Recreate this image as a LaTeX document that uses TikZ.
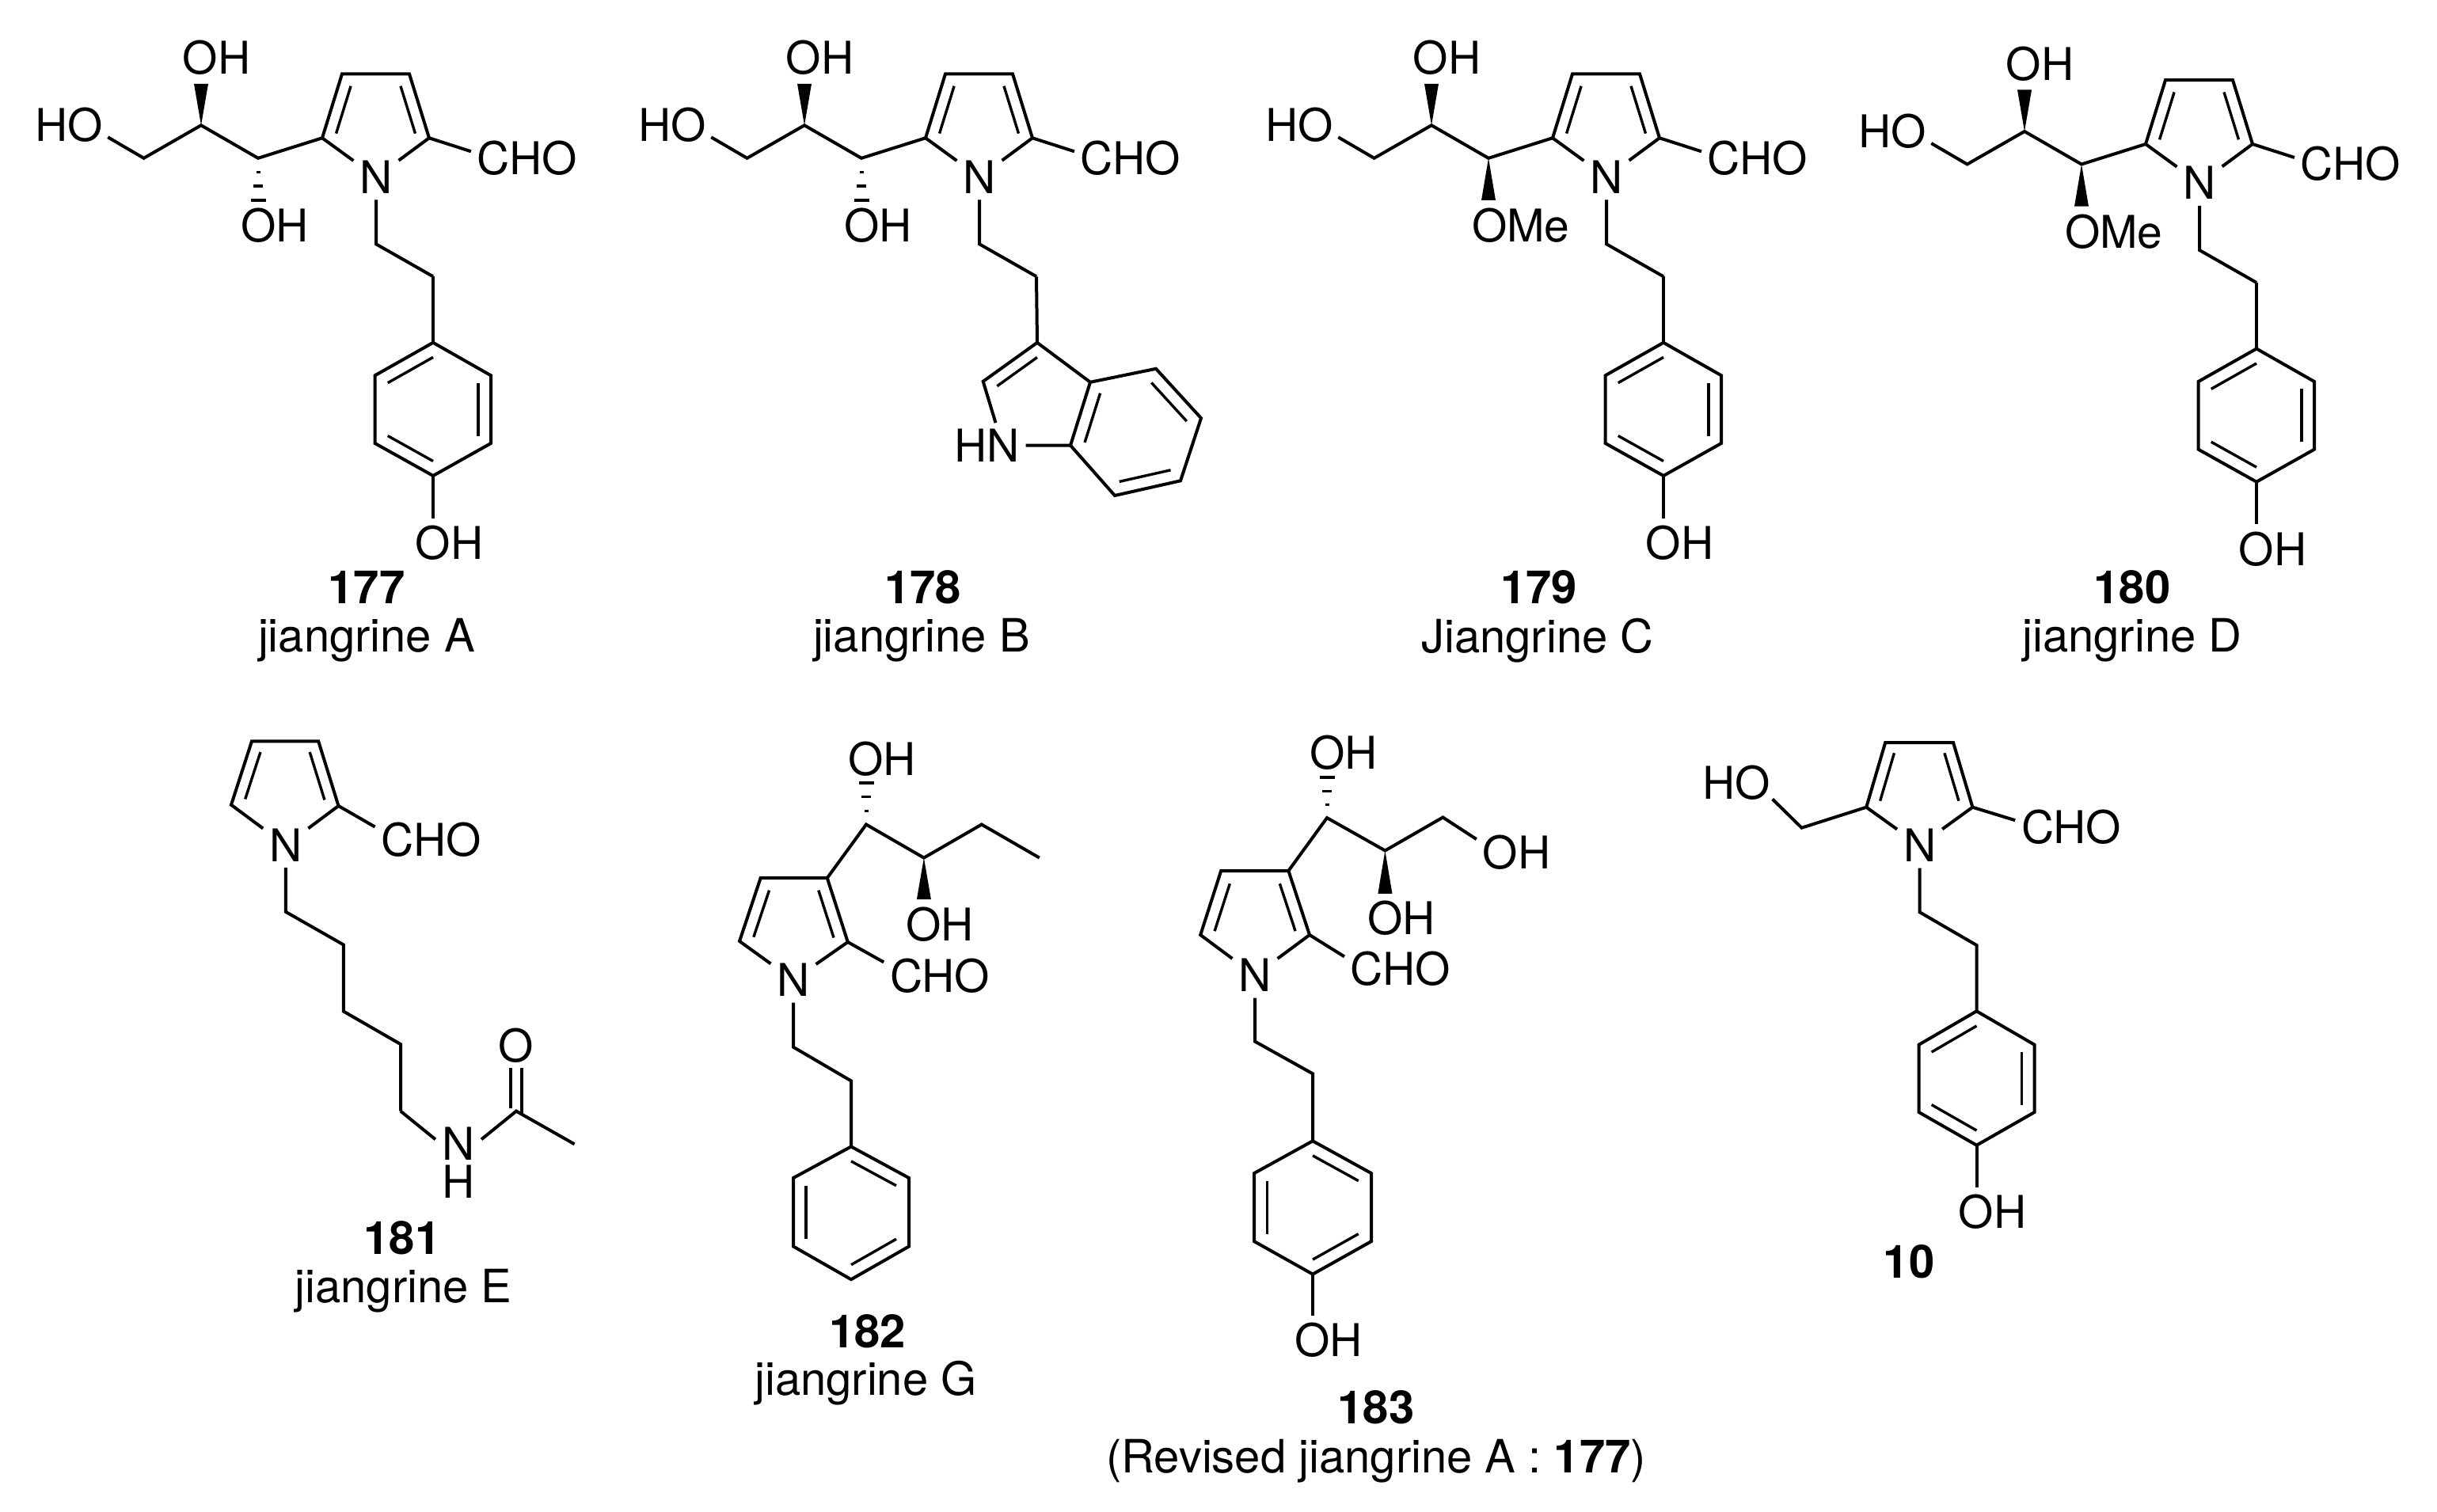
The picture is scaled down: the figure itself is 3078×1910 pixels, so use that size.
\documentclass[tikz,border=0pt]{standalone}
\usepackage{fontspec}
\setmainfont{TeX Gyre Heros}
\usetikzlibrary{calc}
\tikzset{
  bond/.style={draw=black,line width=4pt,line join=miter},
  innerbond/.style={draw=black,line width=3.4pt},
  atom/.style={font=\fontsize{57}{60}\selectfont,inner sep=8pt,outer sep=0pt,text height=41pt,text depth=0pt},
  cpdnum/.style={font=\fontsize{58}{60}\selectfont\bfseries,inner sep=0pt,text height=41.5pt,text depth=0pt},
  cpdname/.style={font=\fontsize{58}{60}\selectfont,inner sep=0pt,anchor=base}
}
% inner line of a ring double bond, pulled towards the ring centre
\newcommand\dbl[4][.74]{\draw[innerbond] ($(#4)!#1!(#2)$) -- ($(#4)!#1!(#3)$);}
\newcommand\wdg[2]{\fill[black] ($(#2)!9pt!90:(#1)$) -- ($(#2)!9pt!-90:(#1)$) -- (#1) -- cycle;}
\newcommand\hsh[2]{\foreach \t/\w in {.33/2.5,.66/6,1/9.5}{\draw[line width=3.2pt] ($(#1)!\t!(#2)!\w pt!90:(#1)$) -- ($(#1)!\t!(#2)!\w pt!-90:(#1)$);}}
% 2-formylpyrrole with side chain, shared by 177-180
\newcommand\topmol{%
  \coordinate (c5) at (407,174.3);
  \coordinate (c4) at (432,93.4);
  \coordinate (c3) at (517,93.4);
  \coordinate (c2) at (542,174.3);
  \coordinate (rc) at (474.6,152.4);
  \coordinate (ca) at (181.6,199.8);
  \coordinate (cb) at (254,158.3);
  \coordinate (cc) at (326,199.8);
  \coordinate (wa) at (254,105.8);
  \coordinate (subst) at (326,253);
  \coordinate (e1) at (475,308.3);
  \coordinate (e2) at (547,349.3);
  \node[atom] (N) at (475,223.8) {N};
  \node[atom] (CHO) at (666,199.8) {CHO};
  \node[atom] (HO) at (87.5,158.3) {HO};
  \node[atom] (OHa) at (273.5,73.2) {OH};
  \draw[bond] (N) -- (c5) -- (c4) -- (c3) -- (c2) -- (N);
  \dbl{c5}{c4}{rc}
  \dbl{c2}{c3}{rc}
  \draw[bond] (c2) -- ([yshift=8.5pt]CHO.west);
  \draw[bond] ([xshift=-2pt,yshift=-15pt]HO.east) -- (ca) -- (cb) -- (cc) -- (c5);
  \wdg{cb}{wa}
  \draw[bond] (N) -- (e1) -- (e2);
}
% p-hydroxyphenyl, shared by 177, 179, 180
\newcommand\phenol{%
  \coordinate (b1) at (547,432.8);
  \coordinate (b2) at (620,474.3);
  \coordinate (b3) at (620,560);
  \coordinate (b4) at (547,601);
  \coordinate (b5) at (473.6,560);
  \coordinate (b6) at (473.6,474.3);
  \coordinate (bc) at (547,516.9);
  \node[atom] (OHp) at (567.5,686) {OH};
  \draw[bond] (e2) -- (b1);
  \draw[bond] (b1) -- (b2) -- (b3) -- (b4) -- (b5) -- (b6) -- cycle;
  \dbl[.78]{b1}{b6}{bc}
  \dbl[.78]{b2}{b3}{bc}
  \dbl[.78]{b4}{b5}{bc}
  \draw[bond] (b4) -- ([xshift=-20.5pt,yshift=3pt]OHp.north);
}
\begin{document}
\begin{tikzpicture}[x=1pt,y=-1pt]
\useasboundingbox (0,0) rectangle (3078,1910);

% 177
\begin{scope}[name prefix=a-]
  \topmol
  \phenol
  \node[atom] (OHb) at (347,285) {OH};
  \hsh{cc}{subst}
\end{scope}
\node[cpdnum] (n177) at (463,741.4) {177};
\node[cpdname] (t177) at (463,823.3) {jiangrine A};

% 178
\begin{scope}[shift={(762,0)},name prefix=b-]
  \topmol
  \node[atom] (OHb) at (347,285) {OH};
  \hsh{cc}{subst}
\end{scope}
\coordinate (i3) at (1310,432.8);
\coordinate (i2) at (1241.7,481.8);
\coordinate (i3a) at (1377,482.8);
\coordinate (i4) at (1460,465.8);
\coordinate (i5) at (1517,528.2);
\coordinate (i6) at (1491,607.3);
\coordinate (i7) at (1408,626);
\coordinate (i7a) at (1352,562.6);
\coordinate (i5c) at (1309.7,504.5);
\coordinate (i6c) at (1434.2,546);
\node[atom] (HN) at (1246.5,562.6) {HN};
\draw[bond] (b-e2) -- (i3);
\draw[bond] ([xshift=11pt]HN.north) -- (i2) -- (i3) -- (i3a);
\draw[bond] (HN.east) -- (i7a) -- (i3a) -- (i4) -- (i5) -- (i6) -- (i7) -- (i7a);
\dbl{i2}{i3}{i5c}
\dbl[.78]{i3a}{i7a}{i6c}
\dbl[.78]{i4}{i5}{i6c}
\dbl[.78]{i6}{i7}{i6c}
\node[cpdnum] (n178) at (1165.6,741.4) {178};
\node[cpdname] (t178) at (1164,823.3) {jiangrine B};

% 179
\begin{scope}[shift={(1554,0)},name prefix=c-]
  \topmol
  \phenol
  \node[atom] (OMe) at (366.8,285) {OMe};
  \wdg{cc}{subst}
\end{scope}
\node[cpdnum] (n179) at (1943.5,741.4) {179};
\node[cpdname] (t179) at (1942,824.4) {Jiangrine C};

% 180
\begin{scope}[shift={(2303,7.7)},name prefix=d-]
  \topmol
  \phenol
  \node[atom] (OMe) at (366.8,285) {OMe};
  \wdg{cc}{subst}
\end{scope}
\node[cpdnum] (n180) at (2693,742) {180};
\node[cpdname] (t180) at (2693,823.3) {jiangrine D};

% 181
\begin{scope}[name prefix=e-]
  \coordinate (c5) at (292,1016.7);
  \coordinate (c4) at (318,936.4);
  \coordinate (c3) at (402.2,936.4);
  \coordinate (c2) at (427.5,1018);
  \coordinate (rc) at (360,989);
  \node[atom] (N) at (360.8,1067.7) {N};
  \node[atom] (CHO) at (544.6,1060.5) {CHO};
  \coordinate (p1) at (360.8,1151.8);
  \coordinate (p2) at (433.8,1193.4);
  \coordinate (p3) at (433.8,1277.5);
  \coordinate (p4) at (506,1319.1);
  \coordinate (p5) at (506,1403.6);
  \coordinate (co) at (652,1403.6);
  \coordinate (me) at (725.6,1445.3);
  \node[atom,inner sep=2.5pt] (NH) at (579,1445.3) {N};
  \node[atom,inner sep=0pt] (HH) at (579,1493) {H};
  \node[atom] (O) at (652,1320.9) {O};
  \draw[bond] (N) -- (c5) -- (c4) -- (c3) -- (c2) -- (N);
  \dbl{c5}{c4}{rc}
  \dbl{c2}{c3}{rc}
  \draw[bond] (c2) -- ([yshift=16pt]CHO.west);
  \draw[bond] (p5) -- ([xshift=-6pt,yshift=6pt]NH.west);
  \draw[bond] (N) -- (p1) -- (p2) -- (p3) -- (p4) -- (p5);
  \draw[bond] ([xshift=6pt,yshift=6pt]NH.east) -- (co) -- (me);
  \draw[bond] ([xshift=-7pt]O.south) -- ([xshift=-7pt,yshift=4pt]co);
  \draw[bond] ([xshift=7pt]O.south) -- ([xshift=7pt,yshift=-4pt]co);
\end{scope}
\node[cpdnum] (n181) at (508,1563.3) {181};
\node[cpdname] (t181) at (509.6,1645) {jiangrine E};

% 182
\begin{scope}[name prefix=f-]
  \coordinate (c3) at (1044.8,1109.1);
  \coordinate (c4) at (960.6,1109.1);
  \coordinate (c5) at (934,1188.9);
  \coordinate (c2) at (1070.8,1190);
  \coordinate (rc) at (1002.5,1169);
  \coordinate (ca) at (1094,1041.5);
  \coordinate (cb) at (1166.9,1083.6);
  \coordinate (cc) at (1239.8,1041.5);
  \coordinate (cd) at (1312.8,1083.6);
  \coordinate (hh) at (1094,989);
  \coordinate (ww) at (1166.9,1136);
  \coordinate (e1) at (1002,1322.7);
  \coordinate (e2) at (1075,1365.4);
  \coordinate (b1) at (1075,1448.4);
  \coordinate (b2) at (1148,1488);
  \coordinate (b3) at (1148,1574.5);
  \coordinate (b4) at (1075,1616.2);
  \coordinate (b5) at (1002,1574.5);
  \coordinate (b6) at (1002,1488);
  \coordinate (bc) at (1075,1532.3);
  \node[atom] (N) at (1002,1238) {N};
  \node[atom] (CHO) at (1187.2,1232.9) {CHO};
  \node[atom] (OHa) at (1114,959) {OH};
  \node[atom] (OHb) at (1187.2,1167.8) {OH};
  \draw[bond] (N) -- (c5) -- (c4) -- (c3) -- (c2) -- (N);
  \dbl{c5}{c4}{rc}
  \dbl{c2}{c3}{rc}
  \draw[bond] (c2) -- ([yshift=17.5pt]CHO.west);
  \draw[bond] (c3) -- (ca) -- (cb) -- (cc) -- (cd);
  \hsh{ca}{hh}
  \wdg{cb}{ww}
  \draw[bond] (N) -- (e1) -- (e2) -- (b1);
  \draw[bond] (b1) -- (b2) -- (b3) -- (b4) -- (b5) -- (b6) -- cycle;
  \dbl[.78]{b1}{b2}{bc}
  \dbl[.78]{b5}{b6}{bc}
  \dbl[.78]{b3}{b4}{bc}
\end{scope}
\node[cpdnum] (n182) at (1095.4,1681.3) {182};
\node[cpdname] (t182) at (1093.5,1762) {jiangrine G};

% 183
\begin{scope}[name prefix=g-]
  \coordinate (c3) at (1627.4,1100);
  \coordinate (c4) at (1542.2,1100);
  \coordinate (c5) at (1516.2,1181);
  \coordinate (c2) at (1654,1181);
  \coordinate (rc) at (1585,1162.5);
  \coordinate (ca) at (1676,1033.1);
  \coordinate (cb) at (1749.4,1074.5);
  \coordinate (cc) at (1822.4,1032.5);
  \coordinate (hh) at (1676,982);
  \coordinate (ww) at (1749.4,1128.75);
  \coordinate (e1) at (1585,1315.6);
  \coordinate (e2) at (1658,1356.3);
  \coordinate (b1) at (1658,1441.3);
  \coordinate (b2) at (1732,1482.1);
  \coordinate (b3) at (1732,1568.1);
  \coordinate (b4) at (1658,1609.6);
  \coordinate (b5) at (1584,1568.1);
  \coordinate (b6) at (1584,1482.1);
  \coordinate (bc) at (1658,1525.4);
  \node[atom] (N) at (1585,1232.1) {N};
  \node[atom] (CHO) at (1769,1224.4) {CHO};
  \node[atom] (OHa) at (1697,951.3) {OH};
  \node[atom] (OHb) at (1770,1160) {OH};
  \node[atom] (OHc) at (1915.5,1077.1) {OH};
  \node[atom] (OHp) at (1678.3,1693.1) {OH};
  \draw[bond] (N) -- (c5) -- (c4) -- (c3) -- (c2) -- (N);
  \dbl{c5}{c4}{rc}
  \dbl{c2}{c3}{rc}
  \draw[bond] (c2) -- ([yshift=16pt]CHO.west);
  \draw[bond] (c3) -- (ca) -- (cb) -- (cc) -- ([yshift=17pt]OHc.west);
  \hsh{ca}{hh}
  \wdg{cb}{ww}
  \draw[bond] (N) -- (e1) -- (e2) -- (b1);
  \draw[bond] (b1) -- (b2) -- (b3) -- (b4) -- (b5) -- (b6) -- cycle;
  \dbl[.78]{b1}{b2}{bc}
  \dbl[.78]{b5}{b6}{bc}
  \dbl[.78]{b3}{b4}{bc}
  \draw[bond] (b4) -- ([xshift=-20.3pt,yshift=3pt]OHp.north);
\end{scope}
\node[cpdnum] (n183) at (1738,1777.5) {183};
\node[cpdname] (t183) at (1738,1860) {(Revised jiangrine A : \textbf{177})};

% 10
\begin{scope}[name prefix=h-]
  \coordinate (c5) at (2357.2,1019.7);
  \coordinate (c4) at (2381.2,938);
  \coordinate (c3) at (2467,938);
  \coordinate (c2) at (2491.4,1019.7);
  \coordinate (rc) at (2424.3,989);
  \coordinate (ca) at (2275.6,1045.7);
  \coordinate (e1) at (2424.6,1152.3);
  \coordinate (e2) at (2496.5,1194);
  \coordinate (b1) at (2496.5,1277.3);
  \coordinate (b2) at (2569.5,1319.7);
  \coordinate (b3) at (2569.5,1405);
  \coordinate (b4) at (2496.5,1446.7);
  \coordinate (b5) at (2423.6,1405);
  \coordinate (b6) at (2423.6,1319.7);
  \coordinate (bc) at (2496.5,1362);
  \node[atom] (N) at (2424.6,1068) {N};
  \node[atom] (CHO) at (2616.2,1045.2) {CHO};
  \node[atom] (HO) at (2192.9,989) {HO};
  \node[atom] (OHp) at (2516.7,1531.4) {OH};
  \draw[bond] (N) -- (c5) -- (c4) -- (c3) -- (c2) -- (N);
  \dbl{c5}{c4}{rc}
  \dbl{c2}{c3}{rc}
  \draw[bond] (c2) -- ([yshift=9pt]CHO.west);
  \draw[bond] ([xshift=-5pt,yshift=-20.5pt]HO.east) -- (ca) -- (c5);
  \draw[bond] (N) -- (e1) -- (e2) -- (b1);
  \draw[bond] (b1) -- (b2) -- (b3) -- (b4) -- (b5) -- (b6) -- cycle;
  \dbl[.78]{b1}{b6}{bc}
  \dbl[.78]{b2}{b3}{bc}
  \dbl[.78]{b4}{b5}{bc}
  \draw[bond] (b4) -- ([xshift=-20.2pt,yshift=3pt]OHp.north);
\end{scope}
\node[cpdnum] (n10) at (2411,1593.7) {10};
\end{tikzpicture}
\end{document}
